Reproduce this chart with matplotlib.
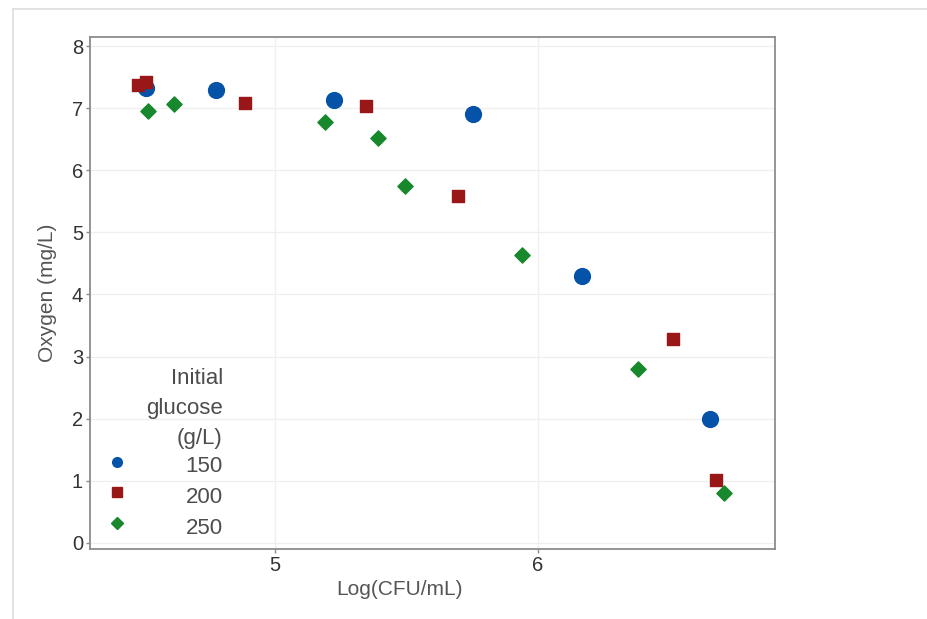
import matplotlib
matplotlib.use("Agg")
import matplotlib.pyplot as plt
from matplotlib.lines import Line2D

plt.rcParams['font.family'] = ['Liberation Sans', 'DejaVu Sans']

x_150 = [4.509, 4.776, 5.224, 5.753, 6.167, 6.654]
y_150 = [7.33, 7.29, 7.13, 6.91, 4.30, 2.00]

x_200 = [4.479, 4.509, 4.886, 5.346, 5.696, 6.513, 6.677]
y_200 = [7.38, 7.42, 7.09, 7.04, 5.59, 3.28, 1.01]

x_250 = [4.517, 4.616, 5.190, 5.392, 5.494, 5.939, 6.380, 6.707]
y_250 = [6.96, 7.07, 6.78, 6.52, 5.75, 4.64, 2.80, 0.81]

glucose = ['150', '200', '250']
xticks = [5, 6]
yticks = [0, 1, 2, 3, 4, 5, 6, 7, 8]

blue = '#0553a8'
red = '#991717'
green = '#17882b'

fig = plt.figure(figsize=(9.27, 6.19), dpi=100)
ax = fig.add_axes([90/927, 70/619, 685/927, 512/619])

ax.scatter(x_150, y_150, s=130, marker='o', color=blue, zorder=3)
ax.scatter(x_200, y_200, s=75, marker='s', color=red, zorder=3)
ax.scatter(x_250, y_250, s=60, marker='D', color=green, zorder=3)

ax.set_xlim(4.297, 6.901)
ax.set_ylim(-0.097, 8.145)
ax.set_xticks(xticks)
ax.set_yticks(yticks)
ax.grid(True, color='#efefef', linewidth=0.9)
ax.set_axisbelow(True)
for sp in ax.spines.values():
    sp.set_color('#8c8c8c')
    sp.set_linewidth(1.3)
ax.tick_params(length=3, width=1, color='#8c8c8c', labelsize=14.5,
               labelcolor='#333333', pad=2)

ax.set_xlabel('Log(CFU/mL)', fontsize=15, color='#555555')
ax.xaxis.set_label_coords((400 - 90) / 685, -0.06)
ax.set_ylabel('Oxygen (mg/L)', fontsize=15, color='#555555', labelpad=11)

handles = [
    Line2D([], [], marker='o', ls='', color=blue, markersize=7),
    Line2D([], [], marker='s', ls='', color=red, markersize=7),
    Line2D([], [], marker='D', ls='', color=green, markersize=6.5),
]
leg = ax.legend(handles, glucose, title='Initial\nglucose\n(g/L)',
                loc='lower left', bbox_to_anchor=(0.0098, 0.0),
                frameon=False, fontsize=16, title_fontsize=16,
                alignment='right', handlelength=1.0, handleheight=1.55,
                handletextpad=2.6, labelspacing=0.12, borderpad=0.4,
                borderaxespad=0)
title = leg.get_title()
title.set_color('#4d4d4d')
title.set_linespacing(1.55)
title.set_multialignment('right')
for t in leg.get_texts():
    t.set_color('#4d4d4d')

# light outer frame of the screenshot
fig.add_artist(Line2D([13/927, 1], [1 - 9/619, 1 - 9/619], color='#dddddd', lw=1.2))
fig.add_artist(Line2D([13/927, 13/927], [0, 1 - 9/619], color='#dddddd', lw=1.2))

fig.savefig('out.png', dpi=100)
